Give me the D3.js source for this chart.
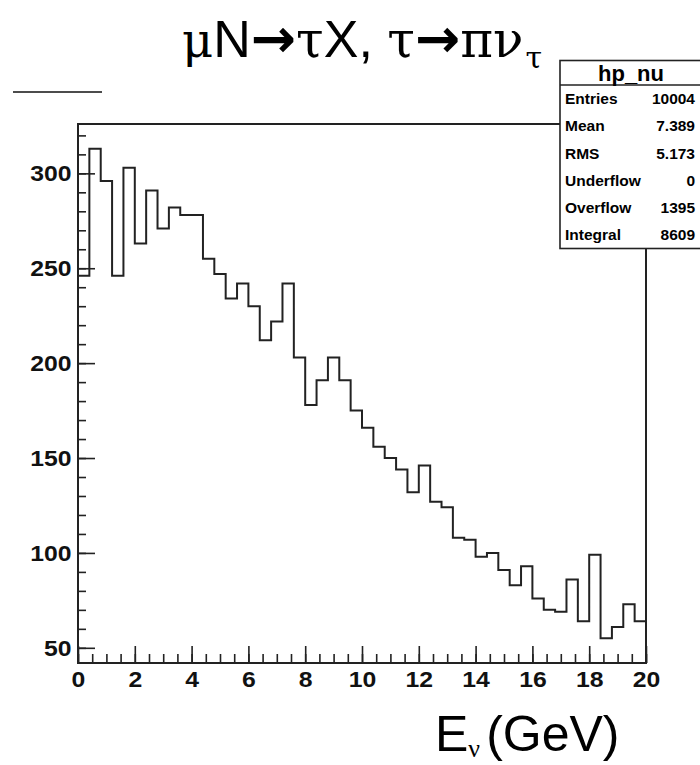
<!DOCTYPE html>
<html>
<head>
<meta charset="utf-8">
<script src="https://cdn.jsdelivr.net/npm/d3@7"></script>
<style>
body { margin: 0; background: #fff; }
</style>
</head>
<body>
<script>
// hp_nu histogram, 50 bins from 0 to 20 GeV
var counts = [246, 313, 296, 246, 303, 263, 291, 271, 282, 278,
	278, 255, 247, 234, 242, 230, 212, 222, 242, 203,
	178, 191, 203, 191, 175, 166, 156, 150, 144, 132,
	146, 127, 124, 108, 107, 98, 100, 91, 83, 93,
	76, 70, 69, 86, 64, 99, 55, 61, 73, 64];
var binWidth = 0.4;
var xTicks = [0, 2, 4, 6, 8, 10, 12, 14, 16, 18, 20];
var yTicks = [50, 100, 150, 200, 250, 300];
var statNames = ["Entries", "Mean", "RMS", "Underflow", "Overflow", "Integral"];
var statValues = ["10004", "7.389", "5.173", "0", "1395", "8609"];

var w = 700;
var h = 765;
var plotLeft = 78, plotRight = 646, plotTop = 124, plotBottom = 663;
var lineCol = "#222";
var serif = "'DejaVu Serif', 'Liberation Serif', serif";
var sans = "'Liberation Sans', Arial, sans-serif";
var arrowFont = "'DejaVu Sans', sans-serif";

var svg = d3.select("body")
			.append("svg")
			.attr("width", w)
			.attr("height", h);

var x = d3.scaleLinear().domain([0, 20]).range([plotLeft, plotRight]);
var y = d3.scaleLinear().domain([42, 326]).range([plotBottom, plotTop]);

// frame
svg.append("rect")
	.attr("x", plotLeft)
	.attr("y", plotTop)
	.attr("width", plotRight - plotLeft)
	.attr("height", plotBottom - plotTop)
	.attr("fill", "none")
	.attr("stroke", lineCol)
	.attr("stroke-width", 2);

// histogram outline
var pts = counts.map(function(d, i) { return [i * binWidth, d]; });
pts.push([counts.length * binWidth, counts[counts.length - 1]]);
svg.append("path")
	.datum(pts)
	.attr("d", d3.line()
		.x(function(d) { return x(d[0]); })
		.y(function(d) { return y(d[1]); })
		.curve(d3.curveStepAfter))
	.attr("fill", "none")
	.attr("stroke", lineCol)
	.attr("stroke-width", 2);

// axes, ticks point inward like ROOT
function styleAxis(g) {
	g.select(".domain").remove();
	g.selectAll("line").attr("stroke", lineCol).attr("stroke-width", 1.6);
	g.selectAll("text")
		.attr("fill", "#111")
		.attr("transform", "scale(1.1,1)")
		.style("font-family", sans)
		.style("font-weight", "bold")
		.style("font-size", "22.5px");
}

svg.append("g")
	.attr("transform", "translate(" + plotLeft + ",0)")
	.call(d3.axisLeft(y).tickValues(d3.range(50, 330, 10)).tickSize(-8).tickFormat(""))
	.call(styleAxis);
svg.append("g")
	.attr("transform", "translate(" + plotLeft + ",0)")
	.call(d3.axisLeft(y).tickValues(yTicks).tickSize(-17).tickPadding(6))
	.call(styleAxis);

svg.append("g")
	.attr("transform", "translate(0," + plotBottom + ")")
	.call(d3.axisBottom(x).tickValues(d3.range(0, 20.01, 0.5)).tickSize(-9).tickFormat(""))
	.call(styleAxis);
svg.append("g")
	.attr("transform", "translate(0," + plotBottom + ")")
	.call(d3.axisBottom(x).tickValues(xTicks).tickSize(-17).tickPadding(8))
	.call(styleAxis);

// stray line top left
svg.append("line")
	.attr("x1", 13).attr("x2", 102)
	.attr("y1", 92).attr("y2", 92)
	.attr("stroke", "#111")
	.attr("stroke-width", 1.6);

// title
var title = svg.append("text")
	.attr("x", 182)
	.attr("y", 57)
	.attr("fill", "#000");
var parts = [["μ", serif, 48], ["N", sans, 52], ["→", arrowFont, 54], ["τ", serif, 50],
	["X", sans, 52], [", ", sans, 52], ["τ", serif, 50], ["→", arrowFont, 54],
	["π", serif, 50], ["ν", serif, 50]];
parts.forEach(function(p) {
	title.append("tspan")
		.style("font-family", p[1])
		.style("font-size", p[2] + "px")
		.style("font-weight", p[1] === arrowFont ? "bold" : "normal")
		.text(p[0]);
});
title.append("tspan")
	.attr("dx", 2)
	.attr("dy", 11)
	.style("font-family", serif)
	.style("font-size", "30px")
	.text("τ");

// stats box
var boxX = 560, boxY = 60.5, boxH = 188, headH = 24.5;
var rowH = (boxH - headH) / statNames.length;
svg.append("rect")
	.attr("x", boxX)
	.attr("y", boxY)
	.attr("width", 160)
	.attr("height", boxH)
	.attr("fill", "#fff")
	.attr("stroke", lineCol)
	.attr("stroke-width", 1.6);
svg.append("line")
	.attr("x1", boxX).attr("x2", 720)
	.attr("y1", boxY + headH).attr("y2", boxY + headH)
	.attr("stroke", lineCol)
	.attr("stroke-width", 1.6);
svg.append("text")
	.attr("x", 631)
	.attr("y", boxY + 20)
	.attr("text-anchor", "middle")
	.style("font-family", sans)
	.style("font-weight", "bold")
	.style("font-size", "22px")
	.text("hp_nu");

svg.selectAll("text.statName")
	.data(statNames)
	.enter()
	.append("text")
	.attr("class", "statName")
	.attr("x", 565)
	.attr("y", function(d, i) { return boxY + headH + rowH * (i + 0.5); })
	.attr("dy", "0.36em")
	.style("font-family", sans)
	.style("font-weight", "bold")
	.style("font-size", "15.5px")
	.text(function(d) { return d; });
svg.selectAll("text.statVal")
	.data(statValues)
	.enter()
	.append("text")
	.attr("class", "statVal")
	.attr("x", 695)
	.attr("y", function(d, i) { return boxY + headH + rowH * (i + 0.5); })
	.attr("dy", "0.36em")
	.attr("text-anchor", "end")
	.style("font-family", sans)
	.style("font-weight", "bold")
	.style("font-size", "15.5px")
	.text(function(d) { return d; });

// x axis title
var xt = svg.append("text")
	.attr("x", 435)
	.attr("y", 751)
	.style("font-family", sans)
	.style("font-size", "50px")
	.attr("fill", "#000");
xt.append("tspan").text("E");
xt.append("tspan").style("font-family", "'Liberation Serif', serif").style("font-size", "26px").attr("dy", 6).text("ν");
xt.append("tspan").attr("dy", -6).attr("dx", 6).text("(GeV)");
</script>
</body>
</html>
